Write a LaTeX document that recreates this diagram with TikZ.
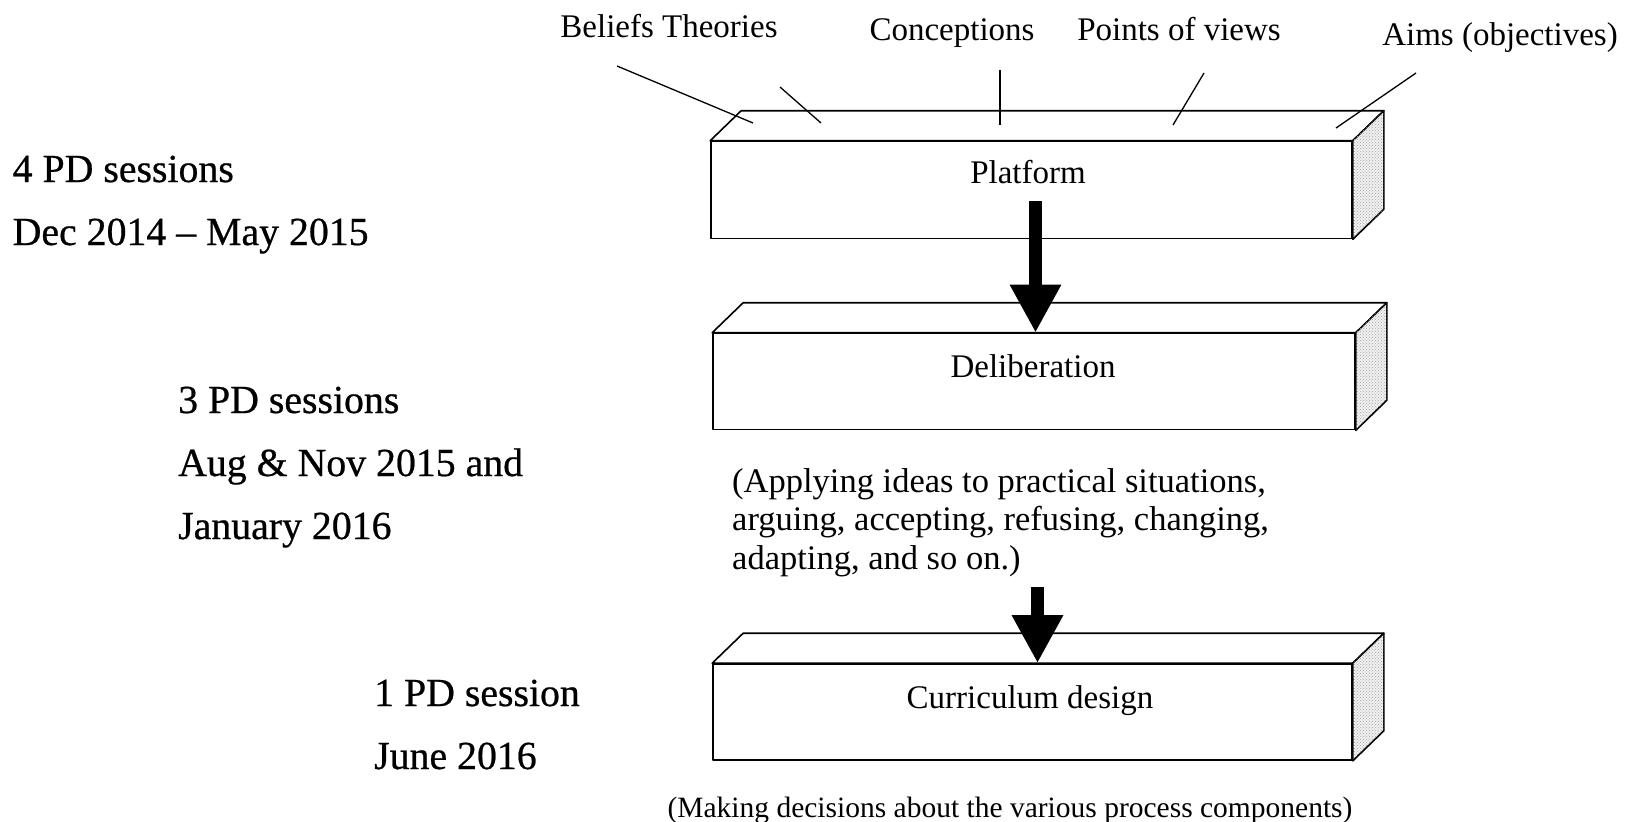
\documentclass[tikz,border=0pt]{standalone}
\usepackage{fontspec}
\setmainfont{Liberation Serif}
\newfontfamily\sidefont{Liberation Serif}[FakeBold=0.6,Ligatures=TeX]
\usetikzlibrary{arrows.meta,calc,patterns}
\begin{document}
\begin{tikzpicture}[x=1pt,y=-1pt,
  face/.style={draw=black, line width=1.6pt, fill=white, line join=round},
  side/.style={draw=black, line width=1.6pt, fill=gray!12, line join=round,
    postaction={pattern=crosshatch dots, pattern color=gray!70}},
  boxlabel/.style={font=\fontsize{33}{39}\selectfont, inner sep=0pt, anchor=base},
  toplabel/.style={font=\fontsize{33}{39}\selectfont, inner sep=0pt, anchor=base},
  sidetext/.style={font=\sidefont\fontsize{39.8}{47}\selectfont, inner sep=0pt, anchor=base west},
  caption/.style={inner sep=0pt},
  leader/.style={line width=1.3pt},
  bigarrow/.style={line width=13pt, -{Triangle[length=48pt 0 1,width=48pt 0 1]}}
]
\useasboundingbox (0,0) rectangle (1639,822);

% ---- boxes
\node[face, minimum width=641pt, minimum height=97pt, inner sep=0pt] (plat) at (1031.5,190) {};
\draw[face] (plat.north west) -- ++(31,-30) -- ($(plat.north east)+(31,-30)$) -- (plat.north east) -- cycle;
\draw[side] (plat.north east) -- ++(31,-30) -- ($(plat.south east)+(31,-30)$) -- (plat.south east) -- cycle;

\node[face, minimum width=642pt, minimum height=96pt, inner sep=0pt] (delib) at (1034,381.5) {};
\draw[face] (delib.north west) -- ++(31,-30) -- ($(delib.north east)+(31,-30)$) -- (delib.north east) -- cycle;
\draw[side] (delib.north east) -- ++(31,-30) -- ($(delib.south east)+(31,-30)$) -- (delib.south east) -- cycle;

\node[face, minimum width=639pt, minimum height=96pt, inner sep=0pt] (curr) at (1032.5,712) {};
\draw[face] (curr.north west) -- ++(31,-30) -- ($(curr.north east)+(31,-30)$) -- (curr.north east) -- cycle;
\draw[side] (curr.north east) -- ++(31,-30) -- ($(curr.south east)+(31,-30)$) -- (curr.south east) -- cycle;

\node[boxlabel] (platL) at (1028,183) {Platform};
\node[boxlabel] (delibL) at (1033,377) {Deliberation};
\node[boxlabel] (currL) at (1030,708) {Curriculum design};

% ---- top labels and leaders
\node[toplabel] (bel) at (669,37) {Beliefs Theories};
\node[toplabel] (con) at (952,40) {Conceptions};
\node[toplabel] (pov) at (1179,40) {Points of views};
\node[toplabel] (aim) at (1500,45) {Aims (objectives)};

\coordinate (l1a) at (617,66);  \coordinate (l1b) at (753,123);
\coordinate (l2a) at (780,87);  \coordinate (l2b) at (821,123);
\coordinate (l3a) at (1000,70); \coordinate (l3b) at (1000,125);
\coordinate (l4a) at (1204,73); \coordinate (l4b) at (1173,125);
\coordinate (l5a) at (1416,73); \coordinate (l5b) at (1336,128);
\draw[leader] (l1a) -- (l1b);
\draw[leader] (l2a) -- (l2b);
\draw[leader] (l3a) -- (l3b);
\draw[leader] (l4a) -- (l4b);
\draw[leader] (l5a) -- (l5b);

% ---- captions
\node[caption, anchor=north west, align=left, font=\fontsize{34.5}{38.5}\selectfont] (cap1) at (732,468)
  {(Applying ideas to practical situations,\\arguing, accepting, refusing, changing,\\adapting, and so on.)};
\node[caption, anchor=base, font=\fontsize{29.5}{35}\selectfont] (cap2) at (1010,817)
  {(Making decisions about the various process components)};

% ---- left texts
\node[sidetext] (s1a) at (12.5,182) {4 PD sessions};
\node[sidetext] (s1b) at (12.5,245) {Dec 2014 – May 2015};
\node[sidetext] (s2a) at (178,413) {3 PD sessions};
\node[sidetext] (s2b) at (178,476) {Aug \& Nov 2015 and};
\node[sidetext] (s2c) at (178,539) {January 2016};
\node[sidetext] (s3a) at (374,706) {1 PD session};
\node[sidetext] (s3b) at (374,769) {June 2016};

% ---- arrows
\coordinate (a1s) at (1035.5,201);
\coordinate (a2s) at (1037.5,587);
\draw[bigarrow] (a1s) -- (a1s |- delib.north);
\draw[bigarrow] (a2s) -- (a2s |- curr.north);
\end{tikzpicture}
\end{document}
